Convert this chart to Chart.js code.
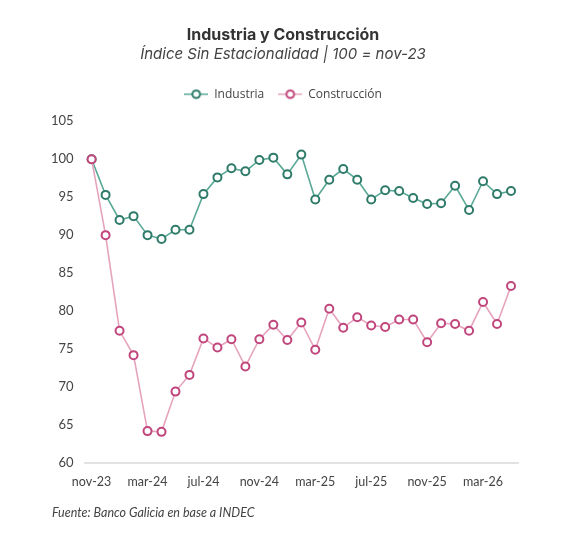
<!DOCTYPE html>
<html>
<head>
<meta charset="utf-8">
<script src="https://cdn.jsdelivr.net/npm/chart.js@4"></script>
<style>
  body { margin: 0; background: #fff; }
  #wrap { position: relative; width: 565px; height: 544px; }
  #fuente {
    position: absolute; left: 52px; top: 505px;
    font-family: Lato, "Open Sans", sans-serif; font-style: italic;
    font-size: 12.5px; color: #444;
  }
</style>
</head>
<body>
<div id="wrap">
  <canvas id="myChart" width="565" height="544"></canvas>
  <div id="fuente">Fuente: Banco Galicia en base a INDEC</div>
</div>
<script>
const meses = [
  'nov-23', 'dic-23', 'ene-24', 'feb-24', 'mar-24', 'abr-24', 'may-24', 'jun-24',
  'jul-24', 'ago-24', 'sep-24', 'oct-24', 'nov-24', 'dic-24', 'ene-25', 'feb-25',
  'mar-25', 'abr-25', 'may-25', 'jun-25', 'jul-25', 'ago-25', 'sep-25', 'oct-25',
  'nov-25', 'dic-25', 'ene-26', 'feb-26', 'mar-26', 'abr-26', 'may-26'
]
const industria = [
  100, 95.3, 92.0, 92.5, 90.0, 89.5, 90.7, 90.7, 95.4, 97.6, 98.8, 98.4,
  99.9, 100.2, 98.0, 100.6, 94.7, 97.3, 98.7, 97.3, 94.7, 95.9, 95.8, 94.9,
  94.1, 94.2, 96.5, 93.3, 97.1, 95.4, 95.8
]
const construccion = [
  100, 90.0, 77.4, 74.2, 64.2, 64.1, 69.4, 71.6, 76.4, 75.2, 76.3, 72.7,
  76.3, 78.2, 76.2, 78.5, 74.9, 80.3, 77.8, 79.2, 78.1, 77.9, 78.9, 78.9,
  75.9, 78.4, 78.3, 77.4, 81.2, 78.3, 83.3
]
const yTicks = [60, 65, 70, 75, 80, 85, 90, 95, 100, 105]

const verdeLinea = '#5aa896'
const verdePunto = '#2f7b69'
const rosaLinea = '#e6a3bd'
const rosaPunto = '#c1467c'

// icono de leyenda: linea con circulo
const iconoLeyenda = (linea, punto) => {
  const c = document.createElement('canvas')
  c.width = 24
  c.height = 12
  const g = c.getContext('2d')
  g.strokeStyle = linea
  g.lineWidth = 1.5
  g.beginPath()
  g.moveTo(0, 6)
  g.lineTo(24, 6)
  g.stroke()
  g.fillStyle = '#fff'
  g.strokeStyle = punto
  g.lineWidth = 2
  g.beginPath()
  g.arc(12, 6, 3.8, 0, Math.PI * 2)
  g.fill()
  g.stroke()
  return c
}
const iconos = [iconoLeyenda(verdeLinea, verdePunto), iconoLeyenda(rosaLinea, rosaPunto)]

// espacio extra bajo la leyenda
const espacioLeyenda = {
  id: 'espacioLeyenda',
  beforeInit(chart) {
    const fit = chart.legend.fit
    chart.legend.fit = function () {
      fit.call(this)
      this.height += 11
    }
  }
}

const ctx = document.getElementById('myChart')

const myChart = new Chart(ctx, {
  type: 'line',
  data: {
    labels: meses,
    datasets: [{
      label: 'Industria',
      data: industria,
      borderColor: verdeLinea,
      pointBorderColor: verdePunto,
      pointBackgroundColor: '#fff',
      borderWidth: 1.6,
      pointRadius: 4,
      pointBorderWidth: 2,
      order: 1
    }, {
      label: 'Construcción',
      data: construccion,
      borderColor: rosaLinea,
      pointBorderColor: rosaPunto,
      pointBackgroundColor: '#fff',
      borderWidth: 1.6,
      pointRadius: 4,
      pointBorderWidth: 2,
      order: 0
    }]
  },
  plugins: [espacioLeyenda],
  options: {
    responsive: false,
    animation: false,
    layout: { padding: { left: 48, right: 47, top: 14, bottom: 52 } },
    plugins: {
      title: {
        display: true,
        text: 'Industria y Construcción',
        color: '#333',
        font: { family: 'Inter, "Noto Sans", sans-serif', size: 16, weight: 'bold' },
        padding: { top: 12, bottom: 0 }
      },
      subtitle: {
        display: true,
        text: 'Índice Sin Estacionalidad | 100 = nov-23',
        color: '#444',
        font: { family: 'Inter, "Noto Sans", sans-serif', size: 15, style: 'italic' },
        padding: { bottom: 11 }
      },
      legend: {
        labels: {
          usePointStyle: true,
          pointStyleWidth: 24,
          color: '#444',
          padding: 14,
          font: { family: '"Open Sans", sans-serif', size: 12 },
          generateLabels: (chart) => {
            const items = Chart.defaults.plugins.legend.labels.generateLabels(chart)
            items.sort((a, b) => a.datasetIndex - b.datasetIndex)
            items.forEach(it => { it.pointStyle = iconos[it.datasetIndex] })
            return items
          }
        }
      },
      tooltip: { enabled: false }
    },
    scales: {
      x: {
        offset: true,
        grid: { display: false },
        border: { display: true, color: '#e2e2e2', width: 2 },
        ticks: {
          autoSkip: false,
          maxRotation: 0,
          color: '#444',
          font: { family: 'Lato, sans-serif', size: 12.5 },
          padding: 3,
          callback: function (val, i) { return i % 4 === 0 ? meses[i] : '' }
        }
      },
      y: {
        min: 60,
        max: 105,
        afterBuildTicks: (axis) => { axis.ticks = yTicks.map(v => ({ value: v })) },
        grid: { display: false },
        border: { display: false },
        ticks: {
          color: '#444',
          font: { family: 'Lato, sans-serif', size: 13 },
          padding: 3
        }
      }
    }
  }
})
</script>
</body>
</html>
